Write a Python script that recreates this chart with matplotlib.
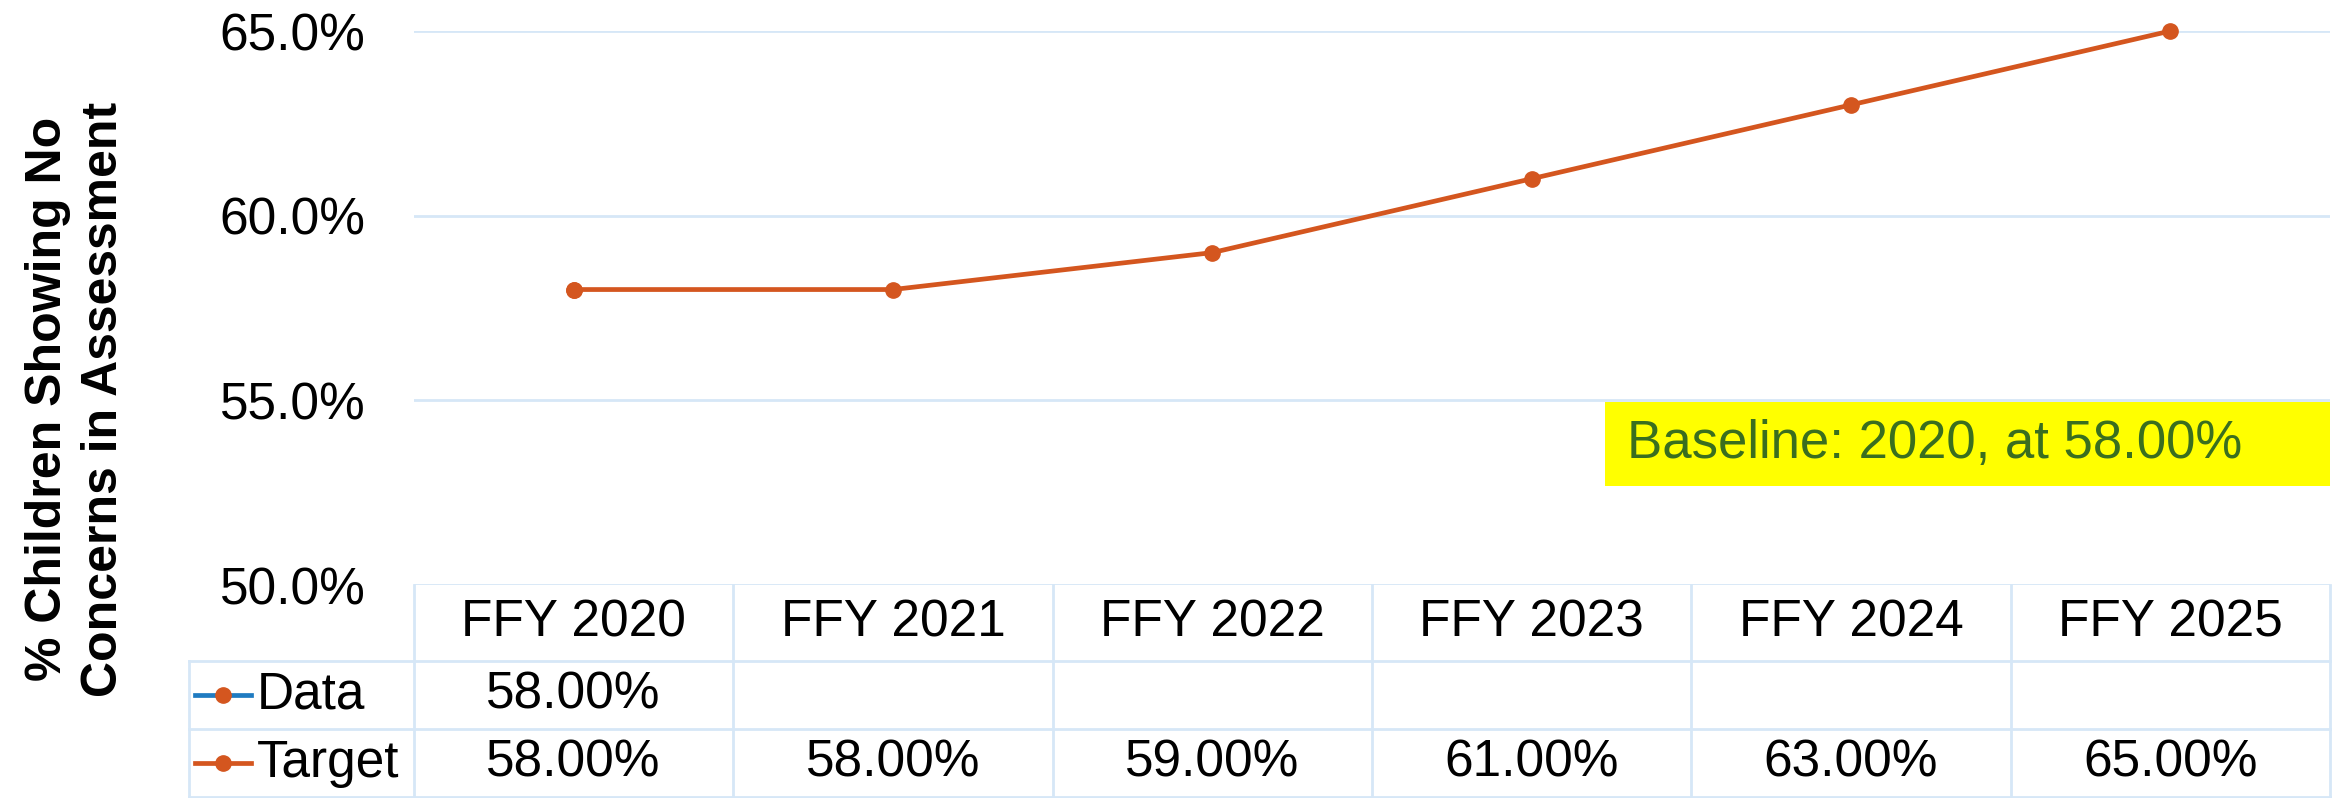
import matplotlib
matplotlib.use("Agg")
import matplotlib.pyplot as plt
from matplotlib.lines import Line2D
from matplotlib.patches import Rectangle

plt.rcParams['font.family'] = ['Liberation Sans', 'DejaVu Sans']

# data
years = ["FFY 2020", "FFY 2021", "FFY 2022", "FFY 2023", "FFY 2024", "FFY 2025"]
data_vals = [58.0, None, None, None, None, None]
target_vals = [58.0, 58.0, 59.0, 61.0, 63.0, 65.0]
yticks = [50, 55, 60, 65]
ylabel = "% Children Showing No\nConcerns in Assessment"
baseline_text = "Baseline: 2020, at 58.00%"

orange = '#d4561f'
blue = '#1f7bc1'
gridc = '#d6e7f7'

W, H = 2336, 798
fig = plt.figure(figsize=(W / 100, H / 100), dpi=100)

left = 414 / W
width = (2330 - 414) / W
ax = fig.add_axes([left, 1 - 585 / H, width, (585 - 31) / H])
tab = fig.add_axes([left, 1 - 797 / H, width, (797 - 585) / H])

x = list(range(len(years)))

# target line and data point
ax.plot(x, target_vals, color=orange, lw=3.4, marker='o', ms=11, zorder=3, clip_on=False)
dx = [i for i, v in zip(x, data_vals) if v is not None]
dy = [v for v in data_vals if v is not None]
ax.plot(dx, dy, color=blue, lw=3.4, marker='o', ms=11, mfc=orange, mec=orange, zorder=2, clip_on=False)

ax.set_xlim(-0.5, len(years) - 0.5)
ax.set_ylim(yticks[0], yticks[-1])
ax.set_yticks(yticks)
ax.set_yticklabels(["{:.1f}%".format(v) for v in yticks])
ax.set_xticks([])
ax.tick_params(axis='y', length=0, pad=35, labelsize=37)
ax.grid(True, axis='y', color=gridc, lw=2)
ax.set_axisbelow(True)
for s in ax.spines.values():
    s.set_visible(False)

# baseline box
ax.add_patch(Rectangle((0.6215, 0.1787), 1.0 - 0.6215, 0.3303 - 0.1787, transform=ax.transAxes,
                       facecolor='#ffff00', edgecolor='none', zorder=4, clip_on=False))
ax.text(0.633, 0.2545, baseline_text, transform=ax.transAxes, ha='left', va='center',
        fontsize=38, color='#3a6e1f', zorder=5)

# data table below
tab.set_xlim(-0.5, len(years) - 0.5)
tab.set_ylim(0, 1)
tab.axis('off')
leg_left = -1.205
row_lines = [0.641, 0.321, 0.0]
for y in row_lines:
    tab.plot([leg_left, len(years) - 0.5], [y, y], color=gridc, lw=2, clip_on=False)
for k in range(len(years) + 1):
    tab.plot([k - 0.5, k - 0.5], [0, 1], color=gridc, lw=2, clip_on=False)
tab.plot([leg_left, leg_left], [0, row_lines[0]], color=gridc, lw=2, clip_on=False)

for i, yr in enumerate(years):
    tab.text(i, 0.82, yr, ha='center', va='center', fontsize=37)
    if data_vals[i] is not None:
        tab.text(i, 0.48, "{:.2f}%".format(data_vals[i]), ha='center', va='center', fontsize=37)
    tab.text(i, 0.16, "{:.2f}%".format(target_vals[i]), ha='center', va='center', fontsize=37)

# legend cells
for yc, name, lc in [(0.48, "Data", blue), (0.16, "Target", orange)]:
    tab.add_line(Line2D([-1.186, -1.011], [yc, yc], color=lc, lw=3.4, clip_on=False))
    tab.add_line(Line2D([-1.098], [yc], marker='o', ms=11, color=orange, clip_on=False))
    tab.text(-0.992, yc, name, ha='left', va='center', fontsize=37)

fig.text(76 / W, 0.5, ylabel, rotation=90, ha='center', va='center', fontsize=36,
         fontweight='bold', multialignment='center', linespacing=1.3)

fig.savefig("out.png", dpi=100)
